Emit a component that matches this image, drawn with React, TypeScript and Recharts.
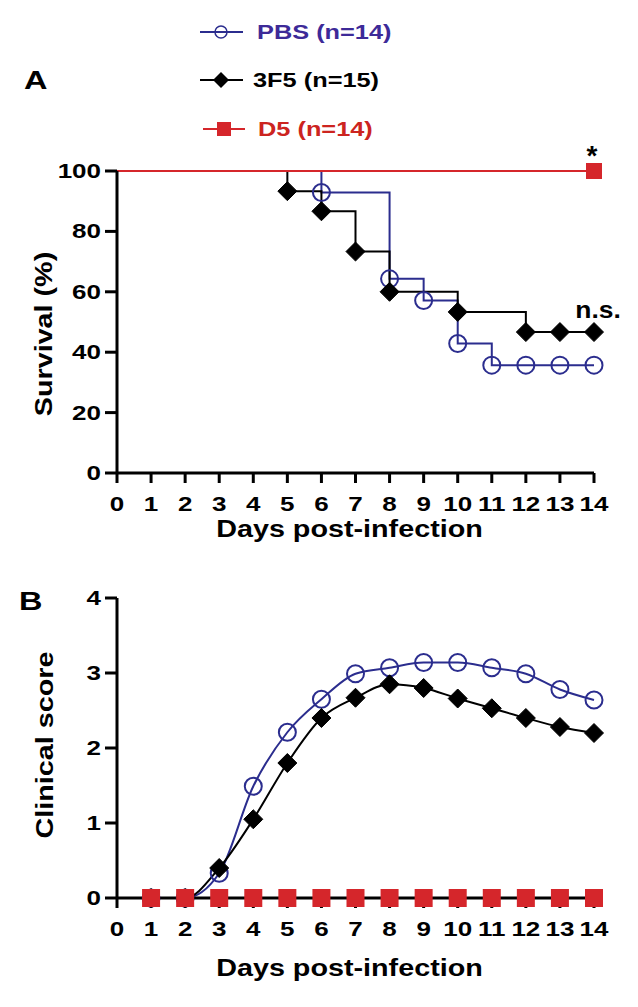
import React from 'react';
import { LineChart, Line, XAxis, YAxis, Legend, ReferenceDot } from 'recharts';

// ---------- data ----------
const days = [0, 1, 2, 3, 4, 5, 6, 7, 8, 9, 10, 11, 12, 13, 14];
const survivalPBS = [100, 100, 100, 100, 100, 100, 92.86, 92.86, 64.29, 57.14, 42.86, 35.71, 35.71, 35.71, 35.71];
const survival3F5 = [100, 100, 100, 100, 100, 93.33, 86.67, 73.33, 60, 60, 53.33, 53.33, 46.67, 46.67, 46.67];
const survivalD5 = [100, 100, 100, 100, 100, 100, 100, 100, 100, 100, 100, 100, 100, 100, 100];
const markerDaysPBS = [6, 8, 9, 10, 11, 12, 13, 14];
const markerDays3F5 = [5, 6, 7, 8, 10, 12, 13, 14];
const markerDaysD5 = [14];

const scoreDays = [1, 2, 3, 4, 5, 6, 7, 8, 9, 10, 11, 12, 13, 14];
const scorePBS = [0, 0, 0.33, 1.49, 2.21, 2.65, 2.99, 3.07, 3.14, 3.14, 3.07, 2.99, 2.78, 2.64];
const score3F5 = [0, 0, 0.4, 1.05, 1.8, 2.4, 2.67, 2.85, 2.8, 2.66, 2.53, 2.4, 2.28, 2.2];
const scoreD5 = [0, 0, 0, 0, 0, 0, 0, 0, 0, 0, 0, 0, 0, 0];

const seriesNames = ['PBS (n=14)', '3F5 (n=15)', 'D5 (n=14)'];
const dayTicks = [0, 1, 2, 3, 4, 5, 6, 7, 8, 9, 10, 11, 12, 13, 14];
const survivalTicks = [0, 20, 40, 60, 80, 100];
const scoreTicks = [0, 1, 2, 3, 4];
const panelLabels = ['A', 'B'];
const axisTitles = ['Survival (%)', 'Clinical score', 'Days post-infection'];
const sigLabels = ['*', 'n.s.'];

const survivalData = days.map((d, i) => ({
  day: d,
  pbs: survivalPBS[i],
  f35: survival3F5[i],
  d5: survivalD5[i],
}));
const scoreData = scoreDays.map((d, i) => ({
  day: d,
  pbs: scorePBS[i],
  f35: score3F5[i],
  d5: scoreD5[i],
}));

// ---------- styles ----------
const FONT = '"Liberation Sans", Arial, Helvetica, sans-serif';
const BLUE = '#2b2d8e';
const BLUE_TEXT = '#3d2a98';
const RED = '#d5262b';
const RED_TEXT = '#cc2420';
const BLACK = '#000';
const SX_TICK = 1.3;
const SX_TITLE = 1.25;
const SX_LEG = 1.3;
const axisStyle = { stroke: '#000', strokeWidth: 3 };

const makeDot = (shape: string, color: string, size: number, markDays?: number[]) => (props: any) => {
  const { cx, cy, payload, index } = props;
  const key = `${shape}-${color}-${index}`;
  if (cx == null || cy == null) return <g key={key} />;
  if (markDays && !markDays.includes(payload.day)) return <g key={key} />;
  const h = size / 2;
  if (shape === 'circle') {
    return <circle key={key} cx={cx} cy={cy} r={h} fill="none" stroke={color} strokeWidth={2} />;
  }
  if (shape === 'diamond') {
    return (
      <polygon
        key={key}
        points={`${cx},${cy - h} ${cx + h},${cy} ${cx},${cy + h} ${cx - h},${cy}`}
        fill={color}
        stroke={color}
        strokeWidth={1}
      />
    );
  }
  return <rect key={key} x={cx - h} y={cy - h} width={size} height={size} fill={color} />;
};

const XTick = (props: any) => {
  const { x, y, payload } = props;
  return (
    <text
      transform={`translate(${x},${y + 28}) scale(${SX_TICK},1)`}
      textAnchor="middle"
      fontFamily={FONT}
      fontSize={20}
      fontWeight={700}
      fill="#000"
    >
      {payload.value}
    </text>
  );
};

const YTick = (props: any) => {
  const { x, y, payload } = props;
  return (
    <text
      transform={`translate(${x - 4},${y + 7}) scale(${SX_TICK},1)`}
      textAnchor="end"
      fontFamily={FONT}
      fontSize={20}
      fontWeight={700}
      fill="#000"
    >
      {payload.value}
    </text>
  );
};

const xTitle = (dy: number) => (p: any) => {
  const vb = p.viewBox || { x: 117, y: 473, width: 477, height: 87 };
  return (
    <text
      transform={`translate(${vb.x + vb.width / 2 - 6},${vb.y + dy}) scale(${SX_TITLE},1)`}
      textAnchor="middle"
      fontFamily={FONT}
      fontSize={23}
      fontWeight={700}
      fill="#000"
    >
      {axisTitles[2]}
    </text>
  );
};

const yTitle = (text: string, baseX: number, dyCenter: number) => (p: any) => {
  const vb = p.viewBox || { x: 0, y: 171, width: 117, height: 302 };
  return (
    <text
      transform={`translate(${vb.x + baseX},${vb.y + vb.height / 2 + dyCenter}) rotate(-90) scale(${SX_TITLE},1)`}
      textAnchor="middle"
      fontFamily={FONT}
      fontSize={23}
      fontWeight={700}
      fill="#000"
    >
      {text}
    </text>
  );
};

const starLabel = (p: any) => {
  const vb = p.viewBox || { x: 0, y: 0, width: 0, height: 0 };
  const cx = vb.x + vb.width / 2;
  const cy = vb.y + vb.height / 2;
  return (
    <text x={cx - 2} y={cy - 6} textAnchor="middle" fontFamily={FONT} fontSize={28} fontWeight={700} fill="#000">
      {sigLabels[0]}
    </text>
  );
};

const nsLabel = (p: any) => {
  const vb = p.viewBox || { x: 0, y: 0, width: 0, height: 0 };
  const cx = vb.x + vb.width / 2;
  const cy = vb.y + vb.height / 2;
  return (
    <text
      transform={`translate(${cx + 4},${cy - 14}) scale(1.15,1)`}
      textAnchor="middle"
      fontFamily={FONT}
      fontSize={23}
      fontWeight={700}
      fill="#000"
    >
      {sigLabels[1]}
    </text>
  );
};

const renderLegend = () => {
  const rows = [
    { shape: 'circle', color: BLUE, text: BLUE_TEXT, y: 32, x1: 200, x2: 243, sx: 221, tx: 257 },
    { shape: 'diamond', color: BLACK, text: BLACK, y: 80, x1: 200, x2: 243, sx: 221, tx: 253 },
    { shape: 'square', color: RED, text: RED_TEXT, y: 129, x1: 203, x2: 245, sx: 224, tx: 258 },
  ];
  return (
    <svg width={638} height={150} style={{ display: 'block' }}>
      {rows.map((r, i) => (
        <g key={i}>
          <line x1={r.x1} x2={r.x2} y1={r.y} y2={r.y} stroke={r.color} strokeWidth={2} />
          {r.shape === 'circle' && <circle cx={r.sx} cy={r.y} r={6} fill="none" stroke={r.color} strokeWidth={1.5} />}
          {r.shape === 'diamond' && (
            <polygon
              points={`${r.sx},${r.y - 8} ${r.sx + 8},${r.y} ${r.sx},${r.y + 8} ${r.sx - 8},${r.y}`}
              fill={r.color}
            />
          )}
          {r.shape === 'square' && <rect x={r.sx - 7} y={r.y - 7} width={14} height={14} fill={r.color} />}
          <text
            transform={`translate(${r.tx},${r.y + 7}) scale(${SX_LEG},1)`}
            fontFamily={FONT}
            fontSize={19.5}
            fontWeight={700}
            fill={r.text}
          >
            {seriesNames[i]}
          </text>
        </g>
      ))}
    </svg>
  );
};

export default function App() {
  return (
    <div style={{ position: 'absolute', left: 0, top: 0, width: 638, height: 1007, background: '#fff', overflow: 'hidden' }}>
      <div style={{ position: 'absolute', left: 0, top: 0 }}>
        <LineChart width={638} height={560} data={survivalData} margin={{ top: 171, right: 44, left: 0, bottom: 0 }}>
          <XAxis
            dataKey="day"
            type="number"
            domain={[0, 14]}
            ticks={dayTicks}
            interval={0}
            height={87}
            tickSize={10}
            tickMargin={0}
            axisLine={axisStyle}
            tickLine={axisStyle}
            tick={(p: any) => <XTick {...p} />}
            label={xTitle(64)}
          />
          <YAxis
            type="number"
            domain={[0, 100]}
            ticks={survivalTicks}
            interval={0}
            width={117}
            tickSize={12}
            tickMargin={0}
            axisLine={axisStyle}
            tickLine={axisStyle}
            tick={(p: any) => <YTick {...p} />}
            label={yTitle(axisTitles[0], 52, 12)}
          />
          <Line
            dataKey="pbs"
            name={seriesNames[0]}
            type="stepAfter"
            stroke={BLUE}
            strokeWidth={2}
            dot={makeDot('circle', BLUE, 17, markerDaysPBS)}
            activeDot={false}
            isAnimationActive={false}
          />
          <Line
            dataKey="f35"
            name={seriesNames[1]}
            type="stepAfter"
            stroke={BLACK}
            strokeWidth={2}
            dot={makeDot('diamond', BLACK, 19, markerDays3F5)}
            activeDot={false}
            isAnimationActive={false}
          />
          <Line
            dataKey="d5"
            name={seriesNames[2]}
            type="stepAfter"
            stroke={RED}
            strokeWidth={2}
            dot={makeDot('square', RED, 16, markerDaysD5)}
            activeDot={false}
            isAnimationActive={false}
          />
          <ReferenceDot x={14} y={survivalD5[14]} r={1} fill="none" stroke="none" label={starLabel} />
          <ReferenceDot x={14} y={survival3F5[14]} r={1} fill="none" stroke="none" label={nsLabel} />
          <Legend
            layout="horizontal"
            verticalAlign="middle"
            align="center"
            wrapperStyle={{ position: 'absolute', left: 0, top: 0, width: 638, height: 150 }}
            content={renderLegend}
          />
        </LineChart>
      </div>
      <div style={{ position: 'absolute', left: 0, top: 560 }}>
        <LineChart width={638} height={447} data={scoreData} margin={{ top: 38, right: 44, left: 0, bottom: 0 }}>
          <XAxis
            dataKey="day"
            type="number"
            domain={[0, 14]}
            ticks={dayTicks}
            interval={0}
            height={109}
            tickSize={10}
            tickMargin={0}
            axisLine={axisStyle}
            tickLine={axisStyle}
            tick={(p: any) => <XTick {...p} />}
            label={xTitle(78)}
          />
          <YAxis
            type="number"
            domain={[0, 4]}
            ticks={scoreTicks}
            interval={0}
            width={117}
            tickSize={12}
            tickMargin={0}
            axisLine={axisStyle}
            tickLine={axisStyle}
            tick={(p: any) => <YTick {...p} />}
            label={yTitle(axisTitles[1], 53, -3)}
          />
          <Line
            dataKey="pbs"
            name={seriesNames[0]}
            type="monotone"
            stroke={BLUE}
            strokeWidth={2}
            dot={makeDot('circle', BLUE, 17)}
            activeDot={false}
            isAnimationActive={false}
          />
          <Line
            dataKey="f35"
            name={seriesNames[1]}
            type="monotone"
            stroke={BLACK}
            strokeWidth={2}
            dot={makeDot('diamond', BLACK, 19)}
            activeDot={false}
            isAnimationActive={false}
          />
          <Line
            dataKey="d5"
            name={seriesNames[2]}
            type="monotone"
            stroke={RED}
            strokeWidth={2}
            dot={makeDot('square', RED, 18)}
            activeDot={false}
            isAnimationActive={false}
          />
        </LineChart>
      </div>
      <svg width={638} height={1007} style={{ position: 'absolute', left: 0, top: 0, pointerEvents: 'none' }}>
        <text transform={`translate(24,89) scale(1.3,1)`} fontFamily={FONT} fontSize={25} fontWeight={700} fill="#000">
          {panelLabels[0]}
        </text>
        <text transform={`translate(19,610) scale(1.3,1)`} fontFamily={FONT} fontSize={25} fontWeight={700} fill="#000">
          {panelLabels[1]}
        </text>
      </svg>
    </div>
  );
}
